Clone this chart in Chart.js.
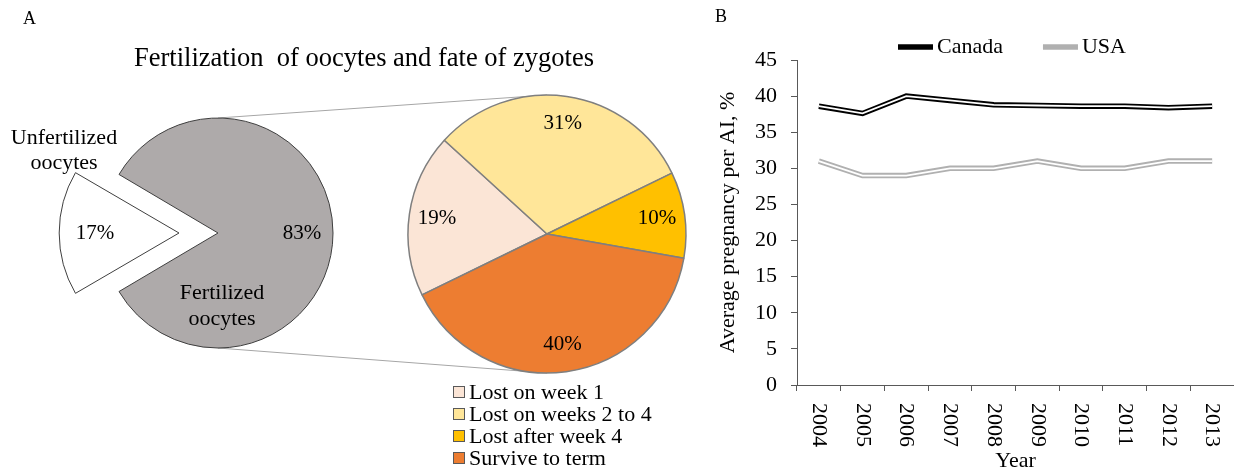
<!DOCTYPE html>
<html>
<head>
<meta charset="utf-8">
<script src="https://cdn.jsdelivr.net/npm/chart.js@4"></script>
<style>
  body { margin: 0; background: #fff; }
  #page { position: relative; width: 1234px; height: 472px; overflow: hidden; font-family: "Liberation Serif", "Times New Roman", serif; color: #000; }
  #page canvas, #page .txt { position: absolute; }
  .txt { white-space: nowrap; }
  #zLegend { left: 453px; top: 381px; font-size: 22px; line-height: 22px; }
  #zLegend .row { height: 22px; display: flex; align-items: center; }
  #zLegend .box { width: 10px; height: 10px; border: 1px solid #595959; margin-right: 4px; }
</style>
</head>
<body>
<div id="page">
  <canvas id="links" width="1234" height="472" style="left:0;top:0"></canvas>
  <div class="txt" style="left:23px;top:8px;font-size:18px">A</div>
  <div class="txt" style="left:715px;top:6px;font-size:18px">B</div>
  <div class="txt" style="left:0;top:42px;width:728px;text-align:center;font-size:26.5px;line-height:30px">Fertilization&nbsp; of oocytes and fate of zygotes</div>
  <canvas id="pieA" width="340" height="340" style="left:48px;top:63px"></canvas>
  <canvas id="pieB" width="300" height="300" style="left:397px;top:84px"></canvas>
  <div class="txt" id="nameOut" style="left:0;top:124px;width:128px;text-align:center;font-size:22px;line-height:25px"></div>
  <div class="txt" id="nameIn" style="left:142px;top:279px;width:160px;text-align:center;font-size:22px;line-height:26px"></div>
  <div class="txt" id="zLegend"></div>
  <canvas id="lineB" width="534" height="472" style="left:700px;top:0"></canvas>
</div>
<script>
// panel A, first pie
const fateLabels = ['Unfertilized oocytes', 'Fertilized oocytes'];
const fateValues = [17, 83];
const fateColors = ['#ffffff', '#aeaaaa'];

// panel A, second pie
const zygoteLabels = ['Lost on week 1', 'Lost on weeks 2 to 4', 'Lost after week 4', 'Survive to term'];
const zygoteValues = [19, 31, 10, 40];
const zygoteColors = ['#fbe5d6', '#ffe699', '#ffc000', '#ed7d31'];

// panel B
const years = ['2004', '2005', '2006', '2007', '2008', '2009', '2010', '2011', '2012', '2013'];
const canada = [38.6, 37.6, 40.0, 39.4, 38.8, 38.7, 38.6, 38.6, 38.4, 38.6];
const usa = [31.0, 29.0, 29.0, 30.0, 30.0, 31.0, 30.0, 30.0, 31.0, 31.0];
const yMin = 0, yMax = 45, yStep = 5;

const SERIF = '"Liberation Serif", "Times New Roman", serif';
const axisColor = '#595959';

// percentage labels inside pie slices
const sliceLabels = {
  id: 'sliceLabels',
  afterDatasetsDraw(chart, args, opts) {
    const { ctx } = chart;
    const meta = chart.getDatasetMeta(0);
    const values = chart.data.datasets[0].data;
    ctx.save();
    ctx.font = '21px ' + SERIF;
    ctx.fillStyle = '#000';
    ctx.textAlign = 'center';
    ctx.textBaseline = 'middle';
    meta.data.forEach((arc, i) => {
      const p = arc.getProps(['x', 'y', 'startAngle', 'endAngle', 'outerRadius'], true);
      const mid = (p.startAngle + p.endAngle) / 2;
      const shift = (arc.options.offset || 0) / 4;
      const r = p.outerRadius * opts.at + shift;
      ctx.fillText(values[i] + '%', p.x + Math.cos(mid) * r, p.y + Math.sin(mid) * r);
    });
    ctx.restore();
  }
};

const pieA = new Chart(document.getElementById('pieA'), {
  type: 'pie',
  data: {
    labels: fateLabels,
    datasets: [{
      data: fateValues,
      backgroundColor: fateColors,
      borderColor: '#3f3f3f',
      borderWidth: 1,
      offset: [156, 0],
      radius: 115
    }]
  },
  options: {
    responsive: false,
    animation: false,
    rotation: 270 - fateValues[0] / 100 * 180,
    plugins: { legend: { display: false }, tooltip: { enabled: false }, sliceLabels: { at: 0.73 } }
  },
  plugins: [sliceLabels]
});

const pieB = new Chart(document.getElementById('pieB'), {
  type: 'pie',
  data: {
    labels: zygoteLabels,
    datasets: [{
      data: zygoteValues,
      backgroundColor: zygoteColors,
      borderColor: '#7f7f7f',
      borderWidth: 1.5,
      radius: 139
    }]
  },
  options: {
    responsive: false,
    animation: false,
    rotation: 244,
    plugins: { legend: { display: false }, tooltip: { enabled: false }, sliceLabels: { at: 0.8 } }
  },
  plugins: [sliceLabels]
});

// slice names and legend for panel A
document.getElementById('nameOut').innerHTML = fateLabels[0].replace(' ', '<br>');
document.getElementById('nameIn').innerHTML = fateLabels[1].replace(' ', '<br>');
document.getElementById('zLegend').innerHTML = zygoteLabels.map((l, i) =>
  '<div class="row"><span class="box" style="background:' + zygoteColors[i] + '"></span>' + l + '</div>'
).join('');

// connector lines between the two pies
(function drawLinks() {
  const a = pieA.getDatasetMeta(0).data[1];
  const b = pieB.getDatasetMeta(0).data[0];
  const ca = pieA.canvas, cb = pieB.canvas;
  const ax = ca.offsetLeft + a.x, ay = ca.offsetTop + a.y, ar = a.outerRadius;
  const bx = cb.offsetLeft + b.x, by = cb.offsetTop + b.y, br = b.outerRadius;
  const ctx = document.getElementById('links').getContext('2d');
  ctx.strokeStyle = '#a6a6a6';
  ctx.lineWidth = 1;
  ctx.beginPath();
  ctx.moveTo(ax, ay - ar); ctx.lineTo(bx, by - br);
  ctx.moveTo(ax, ay + ar); ctx.lineTo(bx, by + br);
  ctx.stroke();
})();

// year labels turned a quarter clockwise
const yearLabels = {
  id: 'yearLabels',
  afterDraw(chart) {
    const { ctx } = chart;
    const xs = chart.scales.x;
    ctx.save();
    ctx.font = '22px ' + SERIF;
    ctx.fillStyle = '#000';
    ctx.textAlign = 'left';
    ctx.textBaseline = 'middle';
    xs.ticks.forEach((t, i) => {
      ctx.save();
      ctx.translate(xs.getPixelForTick(i), xs.top + 18);
      ctx.rotate(Math.PI / 2);
      ctx.fillText(xs.getLabelForValue(t.value), 0, 0);
      ctx.restore();
    });
    ctx.restore();
  }
};

// legend above the plot
const lineLegend = {
  id: 'lineLegend',
  afterDraw(chart, args, opts) {
    const { ctx } = chart;
    ctx.save();
    ctx.font = '22px ' + SERIF;
    ctx.textBaseline = 'middle';
    let x = opts.x;
    chart.data.datasets.forEach(ds => {
      if (!ds.label) return;
      ctx.strokeStyle = ds.borderColor;
      ctx.lineWidth = ds.borderWidth;
      ctx.beginPath();
      ctx.moveTo(x, opts.y);
      ctx.lineTo(x + 35, opts.y);
      ctx.stroke();
      x += 39;
      ctx.fillStyle = '#000';
      ctx.fillText(ds.label, x, opts.y);
      x += ctx.measureText(ds.label).width + 40;
    });
    ctx.restore();
  }
};

const lineB = new Chart(document.getElementById('lineB'), {
  type: 'line',
  data: {
    labels: years,
    datasets: [
      { label: 'Canada', data: canada, borderColor: '#000000', borderWidth: 5.5, order: 1 },
      { label: '', data: canada, borderColor: '#ffffff', borderWidth: 1.8, order: 0 },
      { label: 'USA', data: usa, borderColor: '#b0b0b0', borderWidth: 5.5, order: 1 },
      { label: '', data: usa, borderColor: '#ffffff', borderWidth: 1.8, order: 0 }
    ]
  },
  options: {
    responsive: false,
    animation: false,
    layout: { padding: { left: 15, top: 60, right: 0, bottom: 0 } },
    elements: {
      point: { radius: 0 },
      line: { tension: 0, borderJoinStyle: 'miter', fill: false }
    },
    scales: {
      x: {
        type: 'category',
        offset: true,
        grid: { offset: true, drawOnChartArea: false, tickLength: 6, color: axisColor },
        border: { color: axisColor, width: 1 },
        ticks: { display: false },
        title: { display: true, text: 'Year', color: '#000', font: { family: SERIF, size: 22, lineHeight: 1 }, padding: 0 },
        afterFit: s => { s.height = 87; }
      },
      y: {
        min: yMin,
        max: yMax,
        grid: { drawOnChartArea: false, tickLength: 6, color: axisColor },
        border: { color: axisColor, width: 1 },
        ticks: { stepSize: yStep, padding: 14, color: '#000', font: { family: SERIF, size: 22 } },
        title: { display: true, text: 'Average pregnancy per AI, %', color: '#000', font: { family: SERIF, size: 22 }, padding: 0 },
        afterFit: s => { s.width = 82; }
      }
    },
    plugins: {
      legend: { display: false },
      tooltip: { enabled: false },
      lineLegend: { x: 198, y: 47 }
    }
  },
  plugins: [yearLabels, lineLegend]
});
</script>
</body>
</html>
